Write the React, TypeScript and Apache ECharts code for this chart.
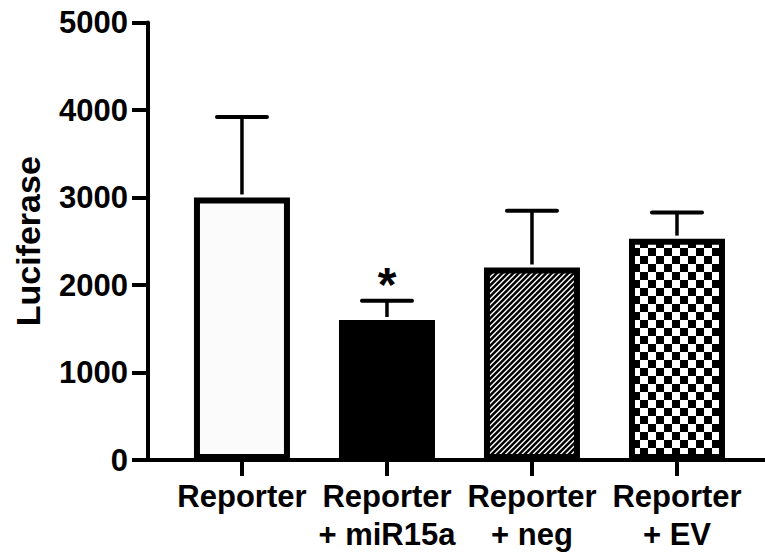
import React, { useEffect, useRef } from "react";
import * as echarts from "echarts";

const categories = ["Reporter", "Reporter\n+ miR15a", "Reporter\n+ neg", "Reporter\n+ EV"];
const means = [3000, 1600, 2200, 2530];
const upperErrors = [3920, 1820, 2850, 2830];
const annotations = ["", "*", "", ""];
const yTickValues = [0, 1000, 2000, 3000, 4000, 5000];

const FONT = "'Liberation Sans', Arial, Helvetica, sans-serif";

function makeHatch(): HTMLCanvasElement {
  const s = 11;
  const c = document.createElement("canvas");
  c.width = s;
  c.height = s;
  const ctx = c.getContext("2d")!;
  ctx.fillStyle = "#ffffff";
  ctx.fillRect(0, 0, s, s);
  ctx.strokeStyle = "#000000";
  ctx.lineWidth = 2.5;
  ctx.beginPath();
  const offs = [0, s / 2, s, 1.5 * s, 2 * s];
  for (const o of offs) {
    ctx.moveTo(o - s - 2, s + 2);
    ctx.lineTo(o + 2, -2);
  }
  ctx.stroke();
  return c;
}

function makeChecker(): HTMLCanvasElement {
  const s = 16;
  const c = document.createElement("canvas");
  c.width = s;
  c.height = s;
  const ctx = c.getContext("2d")!;
  ctx.fillStyle = "#ffffff";
  ctx.fillRect(0, 0, s, s);
  ctx.fillStyle = "#000000";
  ctx.fillRect(0, 0, s / 2, s / 2);
  ctx.fillRect(s / 2, s / 2, s / 2, s / 2);
  return c;
}

export default function App() {
  const ref = useRef<HTMLDivElement>(null);

  useEffect(() => {
    if (!ref.current) return;
    const chart = echarts.init(ref.current, null, { renderer: "svg" });

    const hatch = makeHatch();
    const checker = makeChecker();
    const fills: any[] = [
      "#fbfbfb",
      "#000000",
      { image: hatch, repeat: "repeat", imageWidth: 11, imageHeight: 11 },
      { image: checker, repeat: "repeat", imageWidth: 16, imageHeight: 16 },
    ];

    const idx = categories.map((_, i) => i);

    chart.setOption({
      animation: false,
      backgroundColor: "#ffffff",
      grid: {
        left: 148,
        right: 0,
        top: 22.5,
        bottom: 97,
        containLabel: false,
        outerBoundsMode: "none",
      },
      xAxis: {
        type: "value",
        min: -0.648,
        max: 3.607,
        splitLine: { show: false },
        axisLine: { show: true, onZero: false, lineStyle: { color: "#000", width: 4 } },
        axisTick: {
          show: true,
          customValues: idx,
          length: 16,
          lineStyle: { color: "#000", width: 4 },
        },
        axisLabel: {
          show: true,
          customValues: idx,
          formatter: (v: number) => categories[Math.round(v)] ?? "",
          fontFamily: FONT,
          fontSize: 31,
          fontWeight: "bold",
          color: "#000",
          lineHeight: 38,
          margin: 17,
          align: "center",
        },
      },
      yAxis: {
        type: "value",
        min: yTickValues[0],
        max: yTickValues[yTickValues.length - 1],
        interval: 1000,
        splitLine: { show: false },
        axisLine: { show: true, onZero: false, lineStyle: { color: "#000", width: 4 } },
        axisTick: { show: true, length: 16, lineStyle: { color: "#000", width: 4 } },
        axisLabel: {
          formatter: (v: number) => String(v),
          fontFamily: FONT,
          fontSize: 31,
          fontWeight: "bold",
          color: "#000",
          margin: 20,
        },
        name: "Luciferase",
        nameLocation: "middle",
        nameRotate: 90,
        nameGap: 103,
        nameTextStyle: {
          fontFamily: FONT,
          fontSize: 34,
          fontWeight: "bold",
          color: "#000",
        },
      },
      series: [
        {
          type: "bar",
          barWidth: 96,
          z: 2,
          data: means.map((m, i) => ({
            value: [i, m],
            itemStyle: {
              color: fills[i],
              borderColor: "#000",
              borderWidth: 6,
            },
          })),
        },
        {
          type: "custom",
          z: 3,
          data: means.map((m, i) => [i, m, upperErrors[i]]),
          renderItem: (params: any, api: any) => {
            const i = api.value(0);
            const p0 = api.coord([i, api.value(1)]);
            const p1 = api.coord([i, api.value(2)]);
            const children: any[] = [
              {
                type: "line",
                shape: { x1: p0[0], y1: p0[1] - 3, x2: p1[0], y2: p1[1] },
                style: { stroke: "#000", lineWidth: 3.5 },
              },
              {
                type: "line",
                shape: { x1: p1[0] - 25, y1: p1[1], x2: p1[0] + 25, y2: p1[1] },
                style: { stroke: "#000", lineWidth: 4, lineCap: "round" },
              },
            ];
            const ann = annotations[params.dataIndex];
            if (ann) {
              children.push({
                type: "text",
                x: p1[0],
                y: p1[1] - 16,
                style: {
                  text: ann,
                  fontFamily: FONT,
                  fontSize: 48,
                  fontWeight: "bold",
                  fill: "#000",
                  align: "center",
                  verticalAlign: "middle",
                },
              });
            }
            return { type: "group", children };
          },
        },
      ],
    });

    return () => chart.dispose();
  }, []);

  return (
    <div
      ref={ref}
      style={{ position: "fixed", left: 0, top: 0, width: 765, height: 557, background: "#fff" }}
    />
  );
}
